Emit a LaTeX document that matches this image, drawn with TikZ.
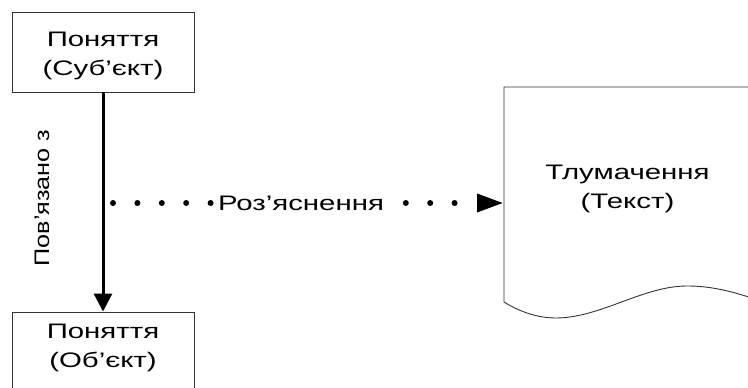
\documentclass[tikz,border=0pt]{standalone}
\usepackage{fontspec}
\setmainfont{Liberation Sans}
\newfontfamily\widefont[FakeStretch=1.4]{Liberation Sans}
\newfontfamily\vwidefont[FakeStretch=1.2]{Liberation Sans}
\usetikzlibrary{arrows.meta}
\tikzset{
  box/.style={draw=black!80, line width=0.9pt, minimum width=182pt, minimum height=80pt, inner sep=0pt},
  txt/.style={align=center, inner sep=0pt, font=\widefont\fontsize{21}{29}\selectfont},
  vtxt/.style={inner sep=0pt, font=\vwidefont\fontsize{21}{29}\selectfont, rotate=90},
  link/.style={line width=3pt, -{Triangle[width=18pt,length=18pt]}},
  dotline/.style={line width=6pt, line cap=round, dash pattern=on 0pt off 24.4pt, -{Triangle[width=17pt,length=27pt]}},
  docline/.style={draw=black!80, line width=0.9pt}
}
\begin{document}
\begin{tikzpicture}[x=1pt,y=1pt]
\useasboundingbox (0,0) rectangle (748,388);
\clip (0,0) rectangle (748,388);
% boxes
\node[box] (subj) at (103,336) {};
\node[txt] (subjt) at (103,332) {Поняття\\(Суб’єкт)};
\node[box] (obj) at (103,36) {};
\node[txt] (objt) at (103,40.5) {Поняття\\(Об’єкт)};
% document
\draw[docline] (770,301) -- (504,301) -- (504,86)
  .. controls (520,76) and (538,70) .. (556,70)
  .. controls (600,70) and (643,102) .. (687,102)
  .. controls (720,102) and (745,92) .. (770,84);
\node[minimum width=10pt, minimum height=215pt, inner sep=0pt, anchor=west] (doc) at (504,185) {};
\node[txt] (doct) at (627.5,199) {Тлумачення\\(Текст)};
% vertical connector
\draw[link] (subj.south) -- (obj.north);
\node[vtxt] (rel) at (42,190) {Пов’язано з};
% dotted connector
\coordinate (dstart) at (113,185);
\draw[dotline] (dstart) -- (doc.west)
  node[pos=0.4808, fill=white, inner sep=1pt, font=\widefont\fontsize{21}{29}\selectfont] (expl) {Роз’яснення};
\end{tikzpicture}
\end{document}
